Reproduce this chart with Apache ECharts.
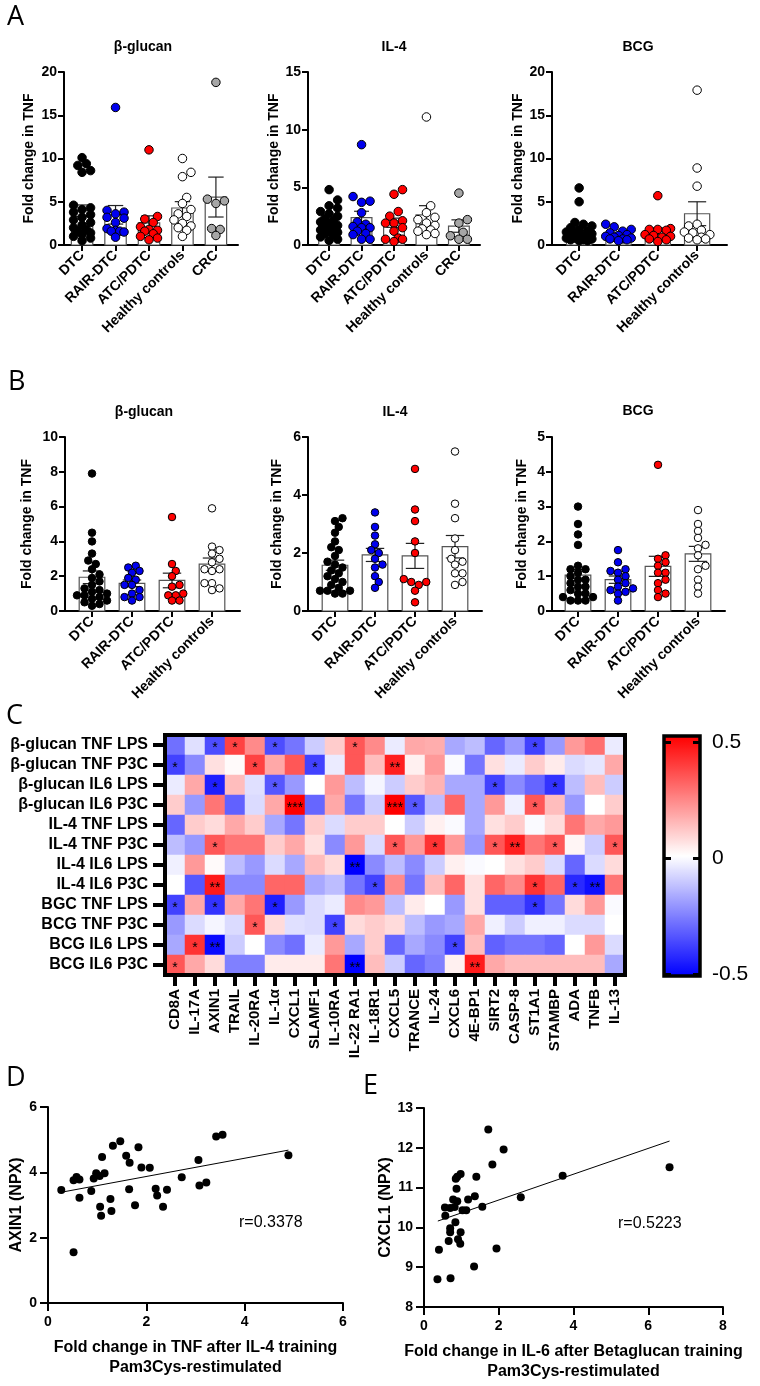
<!DOCTYPE html>
<html>
<head>
<meta charset="utf-8">
<script src="https://cdn.jsdelivr.net/npm/echarts@6/dist/echarts.min.js"></script>
<style>
  html, body { margin: 0; padding: 0; background: #fff; }
  #chart { width: 760px; height: 1386px; }
</style>
</head>
<body>
<div id="chart"></div>
<script>
// ---- data ----
const groupsA = ['DTC', 'RAIR-DTC', 'ATC/PDTC', 'Healthy controls', 'CRC'];
const groupsB = ['DTC', 'RAIR-DTC', 'ATC/PDTC', 'Healthy controls'];

// panel A, fold change in TNF per donor (one list per group)
const aGlucan = [
  [10.1, 9.4, 9.2, 8.6, 8.4, 4.6, 4.3, 4.1, 3.8, 3.5, 3.2, 2.9, 2.6, 2.3, 2.0, 1.8, 1.6, 1.4, 1.2, 1.0, 0.8, 0.5],
  [15.9, 4.0, 3.8, 3.6, 3.2, 3.1, 2.6, 1.9, 1.7, 1.6, 1.6, 1.5, 0.9],
  [11.0, 3.3, 3.0, 2.6, 2.1, 1.8, 1.7, 1.6, 1.3, 1.0, 0.8, 0.6],
  [10.0, 8.4, 7.9, 5.5, 4.8, 4.1, 3.6, 3.3, 2.9, 2.5, 2.2, 2.0, 1.7, 1.0],
  [18.8, 5.3, 5.1, 4.8, 1.9, 1.8, 1.1]
];
const aIL4 = [
  [4.8, 3.9, 3.4, 3.2, 2.9, 2.7, 2.5, 2.3, 2.1, 2.0, 1.8, 1.7, 1.5, 1.4, 1.3, 1.2, 1.1, 1.0, 0.9, 0.7, 0.5, 0.4],
  [8.7, 4.2, 3.7, 3.8, 2.8, 2.0, 1.8, 1.6, 1.5, 1.5, 1.2, 1.0, 0.9, 0.5, 0.5],
  [4.8, 4.4, 2.9, 2.5, 2.1, 1.9, 1.9, 1.5, 1.2, 0.6, 0.5, 0.5, 0.3],
  [11.1, 3.4, 2.8, 2.4, 2.2, 1.9, 1.7, 1.4, 1.3, 1.2, 1.0, 0.9],
  [4.5, 2.2, 1.9, 1.1, 0.8, 0.5, 0.5]
];
const aBCG = [
  [6.6, 5.0, 2.6, 2.4, 2.2, 2.0, 1.8, 1.6, 1.5, 1.4, 1.3, 1.2, 1.1, 1.0, 0.9, 0.8, 0.8, 0.7, 0.6, 0.6, 0.5, 0.5],
  [2.4, 2.1, 1.8, 1.6, 1.4, 1.2, 1.1, 1.0, 0.9, 0.8, 0.7, 0.7, 0.6, 0.5],
  [5.7, 1.9, 1.8, 1.8, 1.7, 1.2, 1.1, 1.0, 0.9, 0.7, 0.6, 0.4],
  [17.9, 8.9, 6.8, 2.4, 2.2, 1.7, 1.5, 1.4, 1.2, 0.9, 0.8, 0.7, 0.6]
];

// panel B
const bGlucan = [
  [7.9, 4.5, 4.0, 3.3, 2.9, 2.7, 2.4, 2.1, 1.9, 1.7, 1.5, 1.3, 1.2, 1.1, 1.0, 0.9, 0.9, 0.8, 0.7, 0.6, 0.5, 0.4, 0.3],
  [2.6, 2.5, 2.3, 2.2, 1.9, 1.8, 1.5, 1.5, 1.2, 1.0, 0.8, 0.8, 0.6],
  [5.4, 2.7, 2.3, 2.0, 1.5, 1.4, 1.0, 0.9, 0.9, 0.6, 0.6],
  [5.9, 3.7, 3.5, 3.3, 3.0, 2.8, 2.4, 2.4, 2.3, 1.6, 1.6, 1.3, 1.2]
];
const bIL4 = [
  [3.2, 3.1, 2.9, 2.7, 2.4, 2.2, 2.1, 1.9, 1.7, 1.6, 1.5, 1.4, 1.3, 1.2, 1.1, 1.0, 0.9, 0.8, 0.7, 0.7, 0.7, 0.6, 0.6],
  [3.4, 2.9, 2.6, 2.3, 2.1, 2.0, 1.8, 1.6, 1.5, 1.2, 1.0, 0.8],
  [4.9, 3.5, 3.1, 2.4, 2.0, 1.1, 1.0, 1.0, 0.9, 0.7, 0.3],
  [5.5, 3.7, 3.2, 2.5, 2.1, 1.8, 1.7, 1.6, 1.3, 1.3, 1.0, 0.9]
];
const bBCG = [
  [3.0, 2.5, 2.2, 1.9, 1.3, 1.2, 1.2, 1.1, 1.0, 0.9, 0.9, 0.8, 0.7, 0.7, 0.6, 0.5, 0.5, 0.4, 0.4, 0.3, 0.3, 0.3],
  [1.75, 1.4, 1.2, 1.15, 1.1, 1.0, 0.9, 0.8, 0.7, 0.65, 0.6, 0.55, 0.5, 0.3],
  [4.2, 1.6, 1.5, 1.4, 1.3, 1.1, 1.1, 0.9, 0.8, 0.6, 0.5, 0.4],
  [2.9, 2.5, 2.3, 2.1, 1.9, 1.8, 1.6, 1.3, 1.2, 0.9, 0.7, 0.5]
];

// panel C, correlation heatmap
const conditions = ['β-glucan TNF LPS', 'β-glucan TNF P3C', 'β-glucan IL6 LPS', 'β-glucan IL6 P3C',
  'IL-4 TNF LPS', 'IL-4 TNF P3C', 'IL-4 IL6 LPS', 'IL-4 IL6 P3C',
  'BGC TNF LPS', 'BCG TNF P3C', 'BCG IL6 LPS', 'BCG IL6 P3C'];
const proteins = ['CD8A', 'IL-17A', 'AXIN1', 'TRAIL', 'IL-20RA', 'IL-1α', 'CXCL1', 'SLAMF1', 'IL-10RA',
  'IL-22 RA1', 'IL-18R1', 'CXCL5', 'TRANCE', 'IL-24', 'CXCL6', '4E-BP1', 'SIRT2', 'CASP-8', 'ST1A1',
  'STAMBP', 'ADA', 'TNFB', 'IL-13'];
const corr = [
  [-0.28, -0.06, -0.35, 0.37, 0.23, -0.35, -0.27, -0.10, 0.10, 0.33, 0.23, -0.04, 0.17, 0.16, -0.17, -0.13, -0.30, -0.20, -0.37, -0.20, 0.20, 0.28, -0.04],
  [-0.37, -0.23, 0.06, 0.01, 0.37, 0.17, 0.33, -0.37, -0.04, 0.33, 0.13, 0.44, 0.03, 0.20, -0.01, -0.27, 0.06, -0.04, 0.10, 0.04, -0.07, -0.05, 0.17],
  [-0.04, 0.17, -0.44, 0.13, -0.06, -0.33, -0.20, 0.00, 0.20, -0.13, -0.02, -0.10, 0.10, 0.15, -0.17, -0.17, -0.37, -0.23, -0.30, -0.40, -0.13, 0.13, -0.10],
  [0.10, -0.20, 0.27, -0.31, -0.07, 0.17, 0.50, -0.30, 0.17, -0.27, -0.10, 0.50, -0.33, -0.13, 0.30, -0.17, 0.20, -0.03, 0.33, 0.13, -0.20, 0.00, 0.10],
  [-0.30, 0.10, 0.07, 0.17, 0.10, -0.17, -0.27, 0.10, -0.07, 0.10, 0.10, 0.00, -0.10, 0.03, -0.01, -0.17, 0.06, 0.10, -0.01, 0.07, 0.27, 0.17, 0.20],
  [-0.13, -0.20, 0.33, 0.27, 0.27, 0.10, 0.17, 0.06, -0.23, 0.20, -0.07, 0.33, 0.20, 0.40, 0.20, -0.20, 0.33, 0.44, 0.27, 0.33, 0.02, -0.10, 0.33],
  [-0.03, 0.20, 0.01, -0.13, -0.20, -0.07, -0.17, 0.13, 0.07, -0.50, -0.23, -0.13, -0.23, -0.10, 0.03, -0.01, 0.00, 0.06, 0.10, -0.07, -0.30, -0.07, 0.07],
  [0.00, -0.33, 0.45, -0.23, -0.23, 0.30, 0.30, -0.17, -0.13, -0.27, -0.37, 0.23, -0.27, 0.13, 0.30, 0.06, 0.30, 0.23, 0.40, 0.30, -0.42, -0.47, 0.27],
  [-0.37, 0.17, -0.40, 0.17, 0.27, -0.44, -0.20, -0.07, -0.04, 0.23, 0.20, -0.13, 0.04, 0.00, -0.20, 0.06, -0.31, -0.31, -0.40, -0.27, 0.07, 0.20, -0.01],
  [-0.20, -0.07, -0.02, -0.07, 0.33, 0.07, -0.06, -0.07, -0.37, 0.07, 0.10, 0.07, -0.13, -0.20, -0.17, 0.17, -0.03, -0.10, -0.03, -0.03, -0.07, -0.07, 0.00],
  [-0.17, 0.40, -0.48, -0.10, 0.00, -0.23, -0.28, -0.04, 0.20, -0.17, 0.10, -0.30, -0.17, -0.23, -0.37, 0.13, -0.31, -0.27, -0.27, -0.30, 0.00, 0.20, -0.07],
  [0.33, 0.17, 0.07, -0.25, -0.25, 0.04, 0.04, 0.04, 0.27, -0.50, 0.13, -0.10, -0.30, -0.25, 0.03, 0.45, 0.17, 0.13, 0.13, 0.13, 0.13, 0.13, -0.17]
];
// [row, column, significance]
const stars = [
  [0, 2, '*'], [0, 3, '*'], [0, 5, '*'], [0, 9, '*'], [0, 18, '*'],
  [1, 0, '*'], [1, 4, '*'], [1, 7, '*'], [1, 11, '**'],
  [2, 2, '*'], [2, 5, '*'], [2, 16, '*'], [2, 19, '*'],
  [3, 6, '***'], [3, 11, '***'], [3, 12, '*'], [3, 18, '*'],
  [5, 2, '*'], [5, 11, '*'], [5, 13, '*'], [5, 16, '*'], [5, 17, '**'], [5, 19, '*'], [5, 22, '*'],
  [6, 9, '**'],
  [7, 2, '**'], [7, 10, '*'], [7, 18, '*'], [7, 20, '*'], [7, 21, '**'],
  [8, 0, '*'], [8, 2, '*'], [8, 5, '*'], [8, 18, '*'],
  [9, 4, '*'], [9, 8, '*'],
  [10, 1, '*'], [10, 2, '**'], [10, 14, '*'],
  [11, 0, '*'], [11, 9, '**'], [11, 15, '**']
];

// panel D / E correlations
const dPoints = [[0.27, 3.46], [0.52, 1.55], [0.52, 3.76], [0.58, 3.86], [0.64, 3.78], [0.64, 3.22], [0.88, 3.43],
  [0.93, 3.81], [0.98, 3.97], [1.05, 3.89], [1.15, 3.97], [1.06, 2.95], [1.08, 2.67], [1.10, 4.47], [1.27, 3.18],
  [1.29, 2.82], [1.32, 4.81], [1.47, 4.95], [1.59, 4.51], [1.66, 4.29], [1.65, 3.48], [1.77, 2.99], [1.84, 4.77],
  [1.90, 4.15], [2.07, 4.14], [2.19, 3.50], [2.22, 3.29], [2.42, 3.47], [2.34, 2.95], [2.72, 3.85], [3.06, 4.38],
  [3.08, 3.60], [3.22, 3.69], [3.42, 5.10], [3.55, 5.15], [4.89, 4.52]];
const dFit = [[0.27, 3.39], [4.89, 4.68]];
const ePoints = [[0.36, 8.70], [0.71, 8.72], [0.40, 9.44], [1.34, 9.02], [1.94, 9.47], [0.66, 9.66], [0.91, 9.70],
  [0.97, 9.59], [0.98, 9.88], [0.70, 9.88], [0.70, 9.98], [0.84, 10.13], [0.57, 10.29], [0.56, 10.50], [0.70, 10.49],
  [0.78, 10.70], [0.82, 10.51], [0.89, 10.66], [1.03, 10.43], [1.13, 10.43], [1.18, 10.70], [1.36, 10.78],
  [1.56, 10.52], [0.87, 10.97], [0.85, 11.22], [0.89, 11.27], [0.98, 11.34], [1.40, 11.27], [1.83, 11.58],
  [2.13, 11.96], [1.72, 12.46], [2.59, 10.76], [3.71, 11.30], [6.57, 11.51]];
const eFit = [[0.37, 10.16], [6.57, 12.17]];

// ---- styling / layout ----
const FONT = '"Liberation Sans", Arial, sans-serif';
const groupFill = ['#000000', '#0000ee', '#ff0000', '#ffffff', '#a6a6a6'];

const panels = [
  { values: aGlucan, cats: groupsA, box: [64, 72, 174, 173], yMax: 20, yStep: 5, xMin: -0.54, xMax: 4.66, title: 'β-glucan', tx: 143, ty: 47, gap: 28, dot: 8.5 },
  { values: aIL4, cats: groupsA, box: [308, 72, 172, 173], yMax: 15, yStep: 5, xMin: -0.65, xMax: 4.65, title: 'IL-4', tx: 394, ty: 47, gap: 24, dot: 8.5 },
  { values: aBCG, cats: groupsB, box: [552, 72, 175, 173], yMax: 20, yStep: 5, xMin: -0.69, xMax: 3.76, title: 'BCG', tx: 638, ty: 47, gap: 25, dot: 8.5 },
  { values: bGlucan, cats: groupsB, box: [65, 437, 175, 174], yMax: 10, yStep: 2, xMin: -0.675, xMax: 3.7, title: 'β-glucan', tx: 144, ty: 412, gap: 31, dot: 7.5 },
  { values: bIL4, cats: groupsB, box: [308, 437, 174, 174], yMax: 6, yStep: 2, xMin: -0.675, xMax: 3.675, title: 'IL-4', tx: 395, ty: 412, gap: 24, dot: 7.5 },
  { values: bBCG, cats: groupsB, box: [552, 437, 173, 174], yMax: 5, yStep: 1, xMin: -0.65, xMax: 3.675, title: 'BCG', tx: 638, ty: 411, gap: 23, dot: 7.5 }
];

function meanOf(a) { return a.reduce((s, v) => s + v, 0) / a.length; }
function semOf(a) {
  const m = meanOf(a);
  const v = a.reduce((s, x) => s + (x - m) * (x - m), 0) / (a.length - 1);
  return Math.sqrt(v / a.length);
}

// simple beeswarm: horizontal pixel offsets so the dots don't pile up
function swarm(vals, pxY, d, maxPx) {
  const order = vals.map((v, i) => i).sort((a, b) => vals[a] - vals[b]);
  const placed = [];
  const off = new Array(vals.length).fill(0);
  const step = d * 0.5;
  order.forEach(i => {
    const y = vals[i] * pxY;
    let best = 0, bestGap = -1;
    for (let k = 0; k < 40; k++) {
      const x = (k % 2 ? 1 : -1) * Math.ceil(k / 2) * step;
      if (Math.abs(x) > maxPx) continue;
      let gap = Infinity;
      placed.forEach(q => { gap = Math.min(gap, Math.hypot(q[0] - x, q[1] - y)); });
      if (gap >= d * 0.85) { best = x; bestGap = gap; break; }
      if (gap > bestGap) { bestGap = gap; best = x; }
    }
    placed.push([best, y]);
    off[i] = best;
  });
  return off;
}

const txt = (size, weight) => ({ color: '#000', fontFamily: FONT, fontSize: size, fontWeight: weight || 'bold' });

const grid = [], xAxis = [], yAxis = [], series = [], graphic = [];

panels.forEach((p, k) => {
  const [gl, gt, gw, gh] = p.box;
  grid.push({ left: gl, top: gt, width: gw, height: gh });
  const ticks = p.cats.map((c, i) => i);
  xAxis.push({
    type: 'value', gridIndex: k, min: p.xMin, max: p.xMax,
    axisLine: { show: true, onZero: false, lineStyle: { color: '#000', width: 2 } },
    axisTick: { show: true, customValues: ticks, length: 6, lineStyle: { color: '#000', width: 2 } },
    axisLabel: Object.assign({ customValues: ticks, formatter: v => p.cats[Math.round(v)], rotate: 45, margin: 8 }, txt(14)),
    splitLine: { show: false }
  });
  yAxis.push({
    type: 'value', gridIndex: k, min: 0, max: p.yMax, interval: p.yStep,
    name: 'Fold change in TNF', nameLocation: 'middle', nameGap: p.gap, nameTextStyle: txt(14),
    axisLine: { show: true, onZero: false, lineStyle: { color: '#000', width: 2 } },
    axisTick: { show: true, length: 6, lineStyle: { color: '#000', width: 2 } },
    axisLabel: Object.assign({ margin: 7 }, txt(14)),
    splitLine: { show: false }
  });

  // bars = mean, error bars = SEM
  const half = 0.32;
  series.push({
    type: 'custom', xAxisIndex: k, yAxisIndex: k, silent: true, z: 1,
    data: p.values.map((g, i) => [i, meanOf(g), semOf(g)]),
    renderItem: (params, api) => {
      const x = api.value(0), m = api.value(1), s = api.value(2);
      const tl = api.coord([x - half, m]), br = api.coord([x + half, 0]);
      const hi = api.coord([x, m + s]), lo = api.coord([x, Math.max(0, m - s)]);
      const cw = (br[0] - tl[0]) * 0.36;
      const ln = { stroke: '#222', lineWidth: 1.2 };
      return {
        type: 'group', children: [
          { type: 'rect', shape: { x: tl[0], y: tl[1], width: br[0] - tl[0], height: br[1] - tl[1] }, style: { fill: '#fff', stroke: '#555', lineWidth: 1.2 } },
          { type: 'line', shape: { x1: hi[0], y1: hi[1], x2: lo[0], y2: lo[1] }, style: ln },
          { type: 'line', shape: { x1: hi[0] - cw, y1: hi[1], x2: hi[0] + cw, y2: hi[1] }, style: ln },
          { type: 'line', shape: { x1: lo[0] - cw, y1: lo[1], x2: lo[0] + cw, y2: lo[1] }, style: ln }
        ]
      };
    }
  });

  const pxX = gw / (p.xMax - p.xMin), pxY = gh / p.yMax;
  const pts = [];
  p.values.forEach((g, i) => {
    const off = swarm(g, pxY, p.dot, 0.38 * pxX);
    g.forEach((v, j) => pts.push({ value: [i + off[j] / pxX, v], itemStyle: { color: groupFill[i] } }));
  });
  series.push({
    type: 'scatter', xAxisIndex: k, yAxisIndex: k, silent: true, z: 3,
    symbolSize: p.dot, data: pts,
    itemStyle: { borderColor: '#000', borderWidth: 1, opacity: 1 }
  });

  graphic.push({ type: 'text', x: p.tx, y: p.ty, style: { text: p.title, font: 'bold 14px ' + FONT, fill: '#000', align: 'center', verticalAlign: 'middle' } });
});

// ---- heatmap (panel C) ----
const HM = { left: 165, top: 735, width: 460, height: 240 };
const hmGrid = grid.length;
grid.push(HM);
xAxis.push({
  type: 'category', gridIndex: hmGrid, data: proteins, position: 'bottom',
  axisLine: { show: false },
  axisTick: { show: true, alignWithLabel: true, length: 11, lineStyle: { color: '#000', width: 4 } },
  axisLabel: Object.assign({ interval: 0, rotate: 90, margin: 14 }, txt(15)),
  splitLine: { show: false }, splitArea: { show: false }
});
yAxis.push({
  type: 'category', gridIndex: hmGrid, data: conditions, inverse: true,
  axisLine: { show: false },
  axisTick: { show: true, alignWithLabel: true, length: 12, lineStyle: { color: '#000', width: 4 } },
  axisLabel: Object.assign({ interval: 0, margin: 17 }, txt(16)),
  splitLine: { show: false }, splitArea: { show: false }
});
const starMap = {};
stars.forEach(([r, c, s]) => { starMap[r + '_' + c] = s; });
const hmData = [];
corr.forEach((row, r) => row.forEach((v, c) => hmData.push([c, r, v])));
const hmSeries = series.length;
series.push({
  type: 'heatmap', xAxisIndex: hmGrid, yAxisIndex: hmGrid, data: hmData, silent: true,
  itemStyle: { borderWidth: 0 },
  label: { show: true, formatter: p => starMap[p.value[1] + '_' + p.value[0]] || '', color: '#000', fontFamily: FONT, fontSize: 14, offset: [0, 3] },
  emphasis: { disabled: true }
});

// colour bar axis (ticks/labels of the legend)
const CB = { left: 664, top: 736, width: 36, height: 240 };
const cbGrid = grid.length;
grid.push({ left: CB.left, top: 742, width: CB.width, height: 232 });
xAxis.push({ type: 'value', gridIndex: cbGrid, show: false });
const cbAxis = (pos, showLabel) => ({
  type: 'value', gridIndex: cbGrid, position: pos, min: -0.5, max: 0.5, interval: 0.5, z: 10,
  axisLine: { show: false },
  axisTick: { show: true, inside: true, length: 7, lineStyle: { color: '#000', width: 3 } },
  axisLabel: Object.assign({ show: showLabel, margin: 12 }, txt(21, 'normal')),
  splitLine: { show: false }
});
yAxis.push(cbAxis('left', false));
yAxis.push(cbAxis('right', true));

// ---- scatter panels D / E ----
const scatterPanels = [
  { pts: dPoints, fit: dFit, box: [48, 1107, 295, 196], x: [0, 6, 2], y: [0, 6, 2],
    xName: 'Fold change in TNF after IL-4 training\nPam3Cys-restimulated', yName: 'AXIN1 (NPX)', yGap: 23,
    r: 'r=0.3378', rx: 239, ry: 1223 },
  { pts: ePoints, fit: eFit, box: [424, 1108, 299, 199], x: [0, 8, 2], y: [8, 13, 1],
    xName: 'Fold change in IL-6 after Betaglucan training\nPam3Cys-restimulated', yName: 'CXCL1 (NPX)', yGap: 29,
    r: 'r=0.5223', rx: 618, ry: 1224 }
];
scatterPanels.forEach(s => {
  const g = grid.length;
  grid.push({ left: s.box[0], top: s.box[1], width: s.box[2], height: s.box[3] });
  xAxis.push({
    type: 'value', gridIndex: g, min: s.x[0], max: s.x[1], interval: s.x[2],
    name: s.xName, nameLocation: 'middle', nameGap: 35,
    nameTextStyle: Object.assign({ lineHeight: 20 }, txt(16)),
    axisLine: { show: true, onZero: false, lineStyle: { color: '#000', width: 2 } },
    axisTick: { show: true, length: 8, lineStyle: { color: '#000', width: 2 } },
    axisLabel: Object.assign({ margin: 12 }, txt(14)),
    splitLine: { show: false }
  });
  yAxis.push({
    type: 'value', gridIndex: g, min: s.y[0], max: s.y[1], interval: s.y[2],
    name: s.yName, nameLocation: 'middle', nameGap: s.yGap, nameTextStyle: txt(16),
    axisLine: { show: true, onZero: false, lineStyle: { color: '#000', width: 2 } },
    axisTick: { show: true, length: 8, lineStyle: { color: '#000', width: 2 } },
    axisLabel: Object.assign({ margin: 11 }, txt(14)),
    splitLine: { show: false }
  });
  series.push({
    type: 'line', xAxisIndex: xAxis.length - 1, yAxisIndex: yAxis.length - 1, data: s.fit,
    symbol: 'none', silent: true, lineStyle: { color: '#000', width: 1 }, z: 2
  });
  series.push({
    type: 'scatter', xAxisIndex: xAxis.length - 1, yAxisIndex: yAxis.length - 1, data: s.pts,
    symbolSize: 8, silent: true, itemStyle: { color: '#000', opacity: 1 }, z: 3
  });
  graphic.push({ type: 'text', x: s.rx, y: s.ry, style: { text: s.r, font: '16px ' + FONT, fill: '#000', align: 'left', verticalAlign: 'middle' } });
});

// panel letters and frames
[['A', 7, 17], ['B', 8, 382], ['C', 6, 716], ['D', 6, 1078], ['E', 363, 1086]].forEach(([t, x, y]) => {
  graphic.push({ type: 'text', x: x, y: y, style: { text: t, font: '27px "Open Sans"', fill: '#000', align: 'left', verticalAlign: 'middle' } });
});
graphic.push({ type: 'rect', z: 100, shape: { x: HM.left, y: HM.top, width: HM.width, height: HM.height }, style: { fill: 'none', stroke: '#000', lineWidth: 4 } });
graphic.push({ type: 'rect', z: 100, shape: { x: CB.left, y: CB.top, width: CB.width, height: CB.height }, style: { fill: 'none', stroke: '#000', lineWidth: 3.5 } });

const chart = echarts.init(document.getElementById('chart'));
chart.setOption({
  animation: false,
  backgroundColor: '#fff',
  textStyle: { fontFamily: FONT },
  grid, xAxis, yAxis, series, graphic,
  visualMap: {
    type: 'continuous', seriesIndex: hmSeries, min: -0.5, max: 0.5, calculable: false,
    orient: 'vertical', left: CB.left, top: CB.top, itemWidth: CB.width, itemHeight: CB.height, padding: 0,
    inRange: { color: ['#0000ff', '#ffffff', '#ff0000'] }
  }
});
</script>
</body>
</html>
